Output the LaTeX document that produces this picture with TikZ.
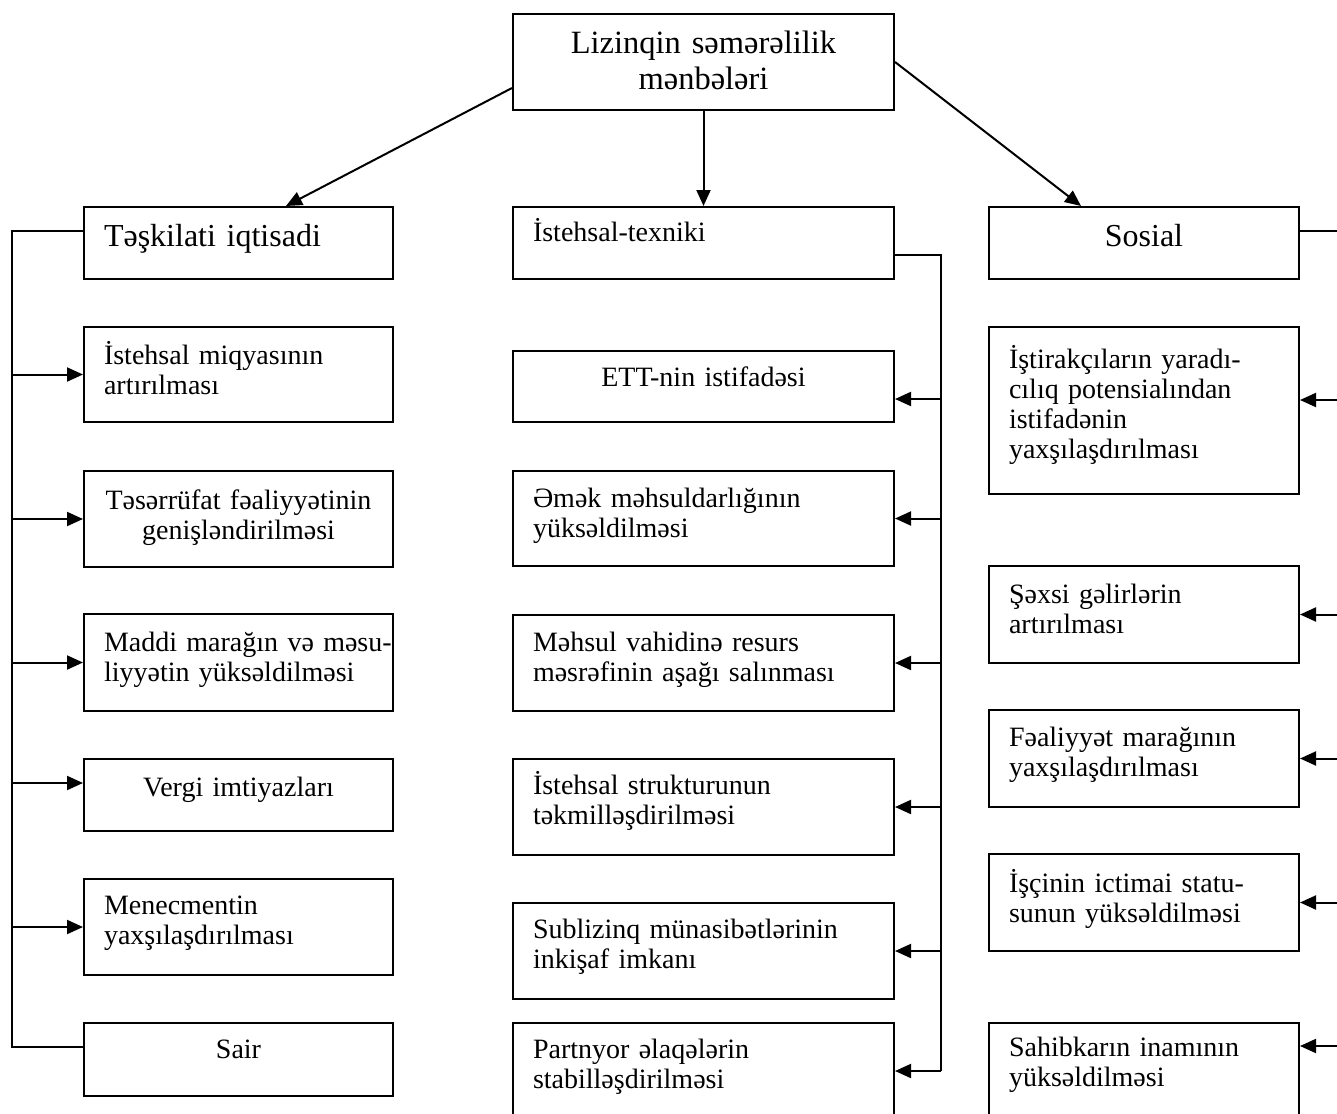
\documentclass[tikz,border=0pt]{standalone}
\usepackage{fontspec}
\setmainfont{Liberation Serif}
\usetikzlibrary{arrows.meta}

% keep each typed line on one line, even when it is a little wider than the box
\newcommand\oneline[1]{\mbox{#1}}

\tikzset{
  conn/.style={line width=2pt},
  tip/.style={-{Triangle[length=16pt,width=14pt]}},
  cell/.style={draw, line width=2pt, anchor=north west, inner xsep=20pt,
    inner ysep=0pt, font=\fontsize{28}{30}\selectfont, align=left},
  head/.style={cell, font=\fontsize{32}{36}\selectfont},
  lcol/.style={text width=269pt},
  mcol/.style={text width=341pt},
  rcol/.style={text width=270pt},
}

\begin{document}
\begin{tikzpicture}[x=1pt,y=-1pt]
\useasboundingbox (0,0) rectangle (1337,1113);
\fill[white] (0,0) rectangle (1337,1113);
\clip (0,0) rectangle (1337,1113);

% root
\node[head, mcol, align=center, font=\fontsize{32.5}{36}\selectfont,
      text height=40pt, text depth=56pt] (top) at (512,13)
  {\oneline{Lizinqin səmərəlilik}\\\oneline{mənbələri}};

% left column: organisational-economic sources
\node[head, lcol, text height=39pt, text depth=33pt] (tesk) at (83,206)
  {\oneline{Təşkilati iqtisadi}};
\node[cell, lcol, text height=37pt, text depth=58pt] (miqyas) at (83,326)
  {\oneline{İstehsal miqyasının}\\\oneline{artırılması}};
\node[cell, lcol, align=center, text height=38pt, text depth=58pt] (tesar) at (83,470)
  {\oneline{Təsərrüfat fəaliyyətinin}\\\oneline{genişləndirilməsi}};
\node[cell, lcol, text height=37pt, text depth=60pt] (maddi) at (83,613)
  {\oneline{Maddi marağın və məsu-}\\\oneline{liyyətin yüksəldilməsi}};
\node[cell, lcol, align=center, text height=37pt, text depth=35pt] (vergi) at (83,758)
  {\oneline{Vergi imtiyazları}};
\node[cell, lcol, text height=35pt, text depth=61pt] (menec) at (83,878)
  {\oneline{Menecmentin}\\\oneline{yaxşılaşdırılması}};
\node[cell, lcol, align=center, text height=35pt, text depth=38pt] (sair) at (83,1022)
  {\oneline{Sair}};

% middle column: production-technical sources
\node[cell, mcol, text height=34pt, text depth=38pt] (texn) at (512,206)
  {\oneline{İstehsal-texniki}};
\node[cell, mcol, align=center, text height=35pt, text depth=36pt] (ett) at (512,350)
  {\oneline{ETT-nin istifadəsi}};
\node[cell, mcol, text height=36pt, text depth=59pt] (emek) at (512,470)
  {\oneline{Əmək məhsuldarlığının}\\\oneline{yüksəldilməsi}};
\node[cell, mcol, text height=36pt, text depth=60pt] (mehsul) at (512,614)
  {\oneline{Məhsul vahidinə resurs}\\\oneline{məsrəfinin aşağı salınması}};
\node[cell, mcol, text height=35pt, text depth=61pt] (strukt) at (512,758)
  {\oneline{İstehsal strukturunun}\\\oneline{təkmilləşdirilməsi}};
\node[cell, mcol, text height=35pt, text depth=61pt] (subliz) at (512,902)
  {\oneline{Sublizinq münasibətlərinin}\\\oneline{inkişaf imkanı}};
\node[cell, mcol, text height=35pt, text depth=61pt] (partn) at (512,1022)
  {\oneline{Partnyor əlaqələrin}\\\oneline{stabilləşdirilməsi}};

% right column: social sources
\node[head, rcol, align=center, text height=39pt, text depth=33pt] (sosial) at (988,206)
  {\oneline{Sosial}};
\node[cell, rcol, text height=41pt, text depth=126pt] (istir) at (988,326)
  {\oneline{İştirakçıların yaradı-}\\\oneline{cılıq potensialından}\\\oneline{istifadənin}\\\oneline{yaxşılaşdırılması}};
\node[cell, rcol, text height=37pt, text depth=60pt] (sexsi) at (988,565)
  {\oneline{Şəxsi gəlirlərin}\\\oneline{artırılması}};
\node[cell, rcol, text height=36pt, text depth=61pt] (faal) at (988,709)
  {\oneline{Fəaliyyət marağının}\\\oneline{yaxşılaşdırılması}};
\node[cell, rcol, text height=38pt, text depth=59pt] (isci) at (988,853)
  {\oneline{İşçinin ictimai statu-}\\\oneline{sunun yüksəldilməsi}};
\node[cell, rcol, text height=33pt, text depth=63pt] (sahib) at (988,1022)
  {\oneline{Sahibkarın inamının}\\\oneline{yüksəldilməsi}};

% root to the three groups
\draw[conn, tip] ([yshift=-26pt]top.west) -- ([xshift=47.5pt]tesk.north);
\draw[conn, tip] (top.south) -- (texn.north);
\draw[conn, tip] (top.east) -- ([xshift=-63pt]sosial.north);

% left bus
\coordinate (lbus) at (12,640);
\draw[conn] ([yshift=12pt]tesk.west) -- ([yshift=12pt]tesk.west -| lbus)
  -- ([yshift=12.5pt]sair.west -| lbus) -- ([yshift=12.5pt]sair.west);
\draw[conn, tip] (lbus |- miqyas.west) -- (miqyas.west);
\draw[conn, tip] (lbus |- tesar.west) -- (tesar.west);
\draw[conn, tip] (lbus |- maddi.west) -- (maddi.west);
\draw[conn, tip] ([yshift=12pt]vergi.west -| lbus) -- ([yshift=12pt]vergi.west);
\draw[conn, tip] (lbus |- menec.west) -- (menec.west);

% middle bus
\coordinate (mbus) at (941,640);
\draw[conn] ([yshift=-12pt]texn.east) -- ([yshift=-12pt]texn.east -| mbus)
  -- (mbus |- partn.east);
\draw[conn, tip] ([yshift=-12.5pt]ett.east -| mbus) -- ([yshift=-12.5pt]ett.east);
\draw[conn, tip] (mbus |- emek.east) -- (emek.east);
\draw[conn, tip] (mbus |- mehsul.east) -- (mehsul.east);
\draw[conn, tip] (mbus |- strukt.east) -- (strukt.east);
\draw[conn, tip] (mbus |- subliz.east) -- (subliz.east);
\draw[conn, tip] (mbus |- partn.east) -- (partn.east);

% right bus
\coordinate (rbus) at (1350,640);
\draw[conn] ([yshift=12pt]sosial.east) -- ([yshift=12pt]sosial.east -| rbus)
  -- ([yshift=25pt]sahib.east -| rbus);
\draw[conn, tip] ([yshift=10.5pt]istir.east -| rbus) -- ([yshift=10.5pt]istir.east);
\draw[conn, tip] (rbus |- sexsi.east) -- (sexsi.east);
\draw[conn, tip] (rbus |- faal.east) -- (faal.east);
\draw[conn, tip] (rbus |- isci.east) -- (isci.east);
\draw[conn, tip] ([yshift=25pt]sahib.east -| rbus) -- ([yshift=25pt]sahib.east);
\end{tikzpicture}
\end{document}
